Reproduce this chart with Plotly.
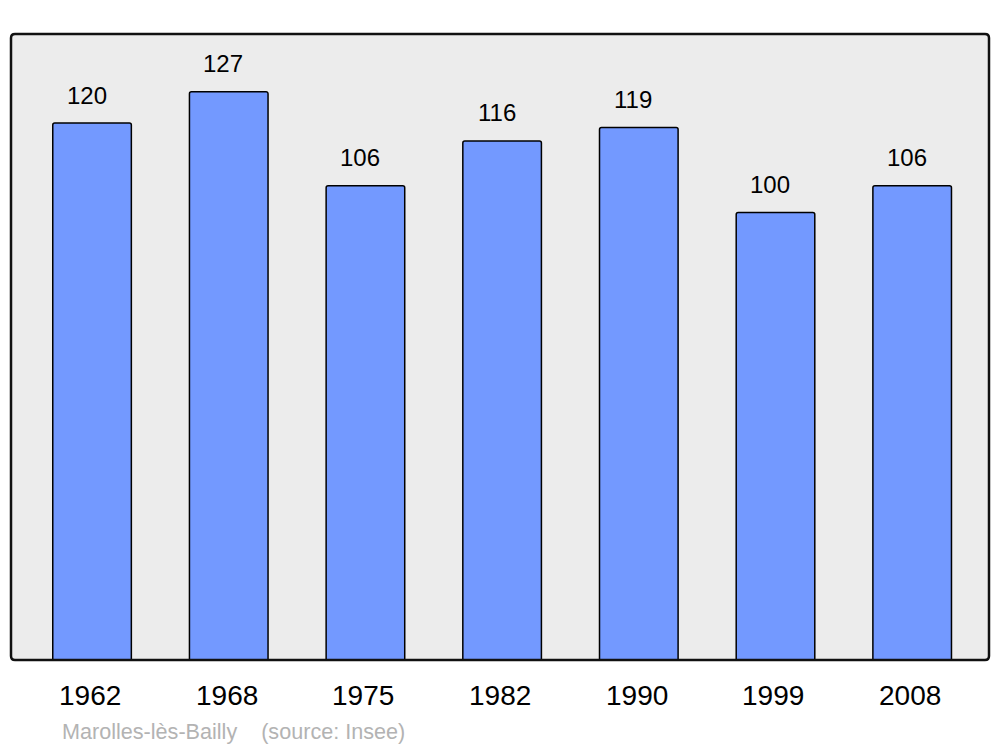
import plotly.graph_objects as go

years = ["1962", "1968", "1975", "1982", "1990", "1999", "2008"]
population = [120, 127, 106, 116, 119, 100, 106]
footer_text = "Marolles-lès-Bailly&nbsp;&nbsp;&nbsp;&nbsp;(source: Insee)"

positions = list(range(len(years)))
FONT = "Liberation Sans, Arial, sans-serif"

fig = go.Figure()
fig.add_trace(go.Bar(
    x=positions, y=population, width=0.575,
    marker=dict(color="#7399ff", line=dict(color="#000000", width=1.5), cornerradius=2),
    hoverinfo="skip",
))

annotations = []
for xi, v in zip(positions, population):
    annotations.append(dict(x=xi, y=v, xref="x", yref="y", text=str(v), showarrow=False,
                            xshift=-5.5, yshift=28, yanchor="middle",
                            font=dict(family=FONT, size=24, color="#000000")))
for xi, yr in zip(positions, years):
    annotations.append(dict(x=xi, y=0, xref="x", yref="paper", text=yr, showarrow=False,
                            xshift=-2, yshift=-35, yanchor="middle",
                            font=dict(family=FONT, size=28, color="#000000")))
annotations.append(dict(x=(60 - 11) / 978, y=0, xref="paper", yref="paper", text=footer_text,
                        showarrow=False, xanchor="left", yanchor="middle", yshift=-71,
                        font=dict(family=FONT, size=21.6, color="#b3b3b3")))

# rounded frame around the plot area (paper coordinates)
rx, ry = 4 / 978, 4 / 626
frame_path = (f"M {rx},0 L {1-rx},0 Q 1,0 1,{ry} L 1,{1-ry} Q 1,1 {1-rx},1 "
              f"L {rx},1 Q 0,1 0,{1-ry} L 0,{ry} Q 0,0 {rx},0 Z")

# The page body has an 8px margin, so the figure is sized and margined to compensate.
fig.update_layout(
    width=992, height=739,
    margin=dict(l=3, r=11, t=26, b=87),
    paper_bgcolor="#ffffff", plot_bgcolor="#ececec",
    showlegend=False,
    xaxis=dict(range=[-0.593, 6.562], showticklabels=False, showgrid=False, zeroline=False,
               ticks=""),
    yaxis=dict(range=[0, 139.9], showticklabels=False, showgrid=False, zeroline=False,
               ticks=""),
    annotations=annotations,
    shapes=[dict(type="path", xref="paper", yref="paper", path=frame_path,
                 line=dict(color="#111111", width=2.5), layer="above")],
)

fig.write_html("out.html")
